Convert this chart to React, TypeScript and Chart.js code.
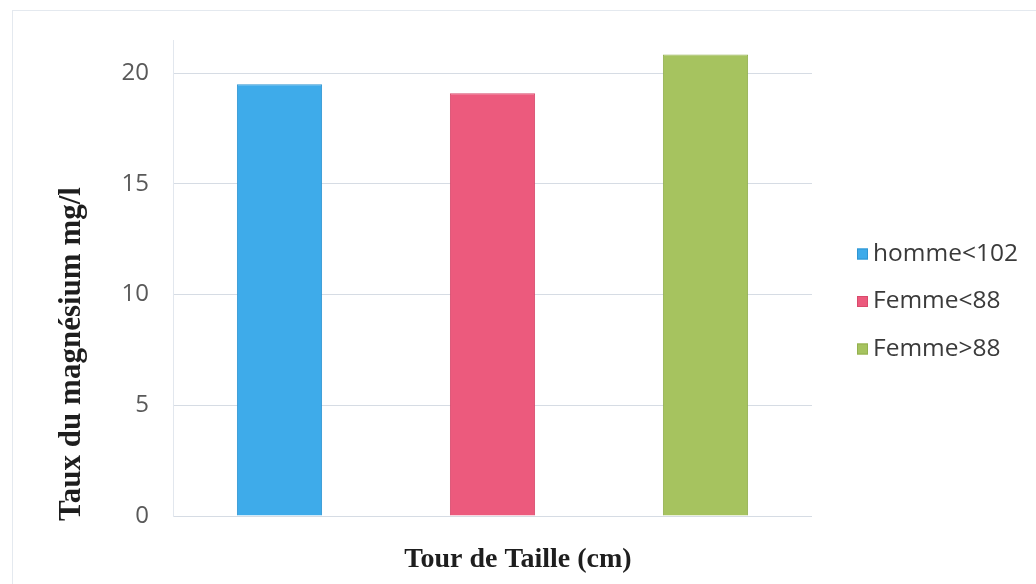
import React, { useEffect, useRef } from "react";
import { Chart, registerables } from "chart.js";

Chart.register(...registerables);

const categories = [""];
const seriesLabels = ["homme<102", "Femme<88", "Femme>88"];
const seriesValues = [19.5, 19.1, 20.85];
const seriesColors = ["#3eabea", "#ec5a7d", "#a6c35f"];
const seriesBorders = ["#2f95d2", "#d94a6c", "#93b04f"];
const yTicks = [0, 5, 10, 15, 20];
const yMax = 21.5;
const yTitle = "Taux du magnésium mg/l";
const xTitle = "Tour de Taille (cm)";

const legendPlugin = {
  id: "customLegend",
  afterDraw(chart: any) {
    const ctx = chart.ctx;
    ctx.save();
    const startY = 254;
    const gap = 47.5;
    chart.data.datasets.forEach((ds: any, i: number) => {
      const cy = startY + i * gap;
      ctx.fillStyle = ds.backgroundColor;
      ctx.fillRect(857, cy - 5.5, 11, 11);
      ctx.strokeStyle = ds.borderColor;
      ctx.lineWidth = 1;
      ctx.strokeRect(857.5, cy - 5, 10, 10);
      ctx.fillStyle = "#3a3a3a";
      ctx.font = "24.5px 'Open Sans'";
      ctx.textBaseline = "middle";
      ctx.textAlign = "left";
      ctx.fillText(ds.label, 873, cy);
    });
    ctx.restore();
  },
};

const titlesPlugin = {
  id: "axisTitles",
  afterDraw(chart: any) {
    const ctx = chart.ctx;
    ctx.save();
    ctx.fillStyle = "#1e1e1e";
    ctx.textAlign = "center";
    ctx.textBaseline = "middle";
    ctx.font = "bold 28px 'Liberation Serif'";
    ctx.fillText(xTitle, 518, 560);
    ctx.translate(72, 354);
    ctx.rotate(-Math.PI / 2);
    ctx.font = "bold 31px 'Liberation Serif'";
    ctx.fillText(yTitle, 0, 0);
    ctx.restore();
  },
};

const framePlugin = {
  id: "frame",
  beforeDraw(chart: any) {
    const ctx = chart.ctx;
    ctx.save();
    ctx.fillStyle = "#ffffff";
    ctx.fillRect(0, 0, chart.width, chart.height);
    ctx.strokeStyle = "#e4e9ef";
    ctx.lineWidth = 1;
    ctx.strokeRect(12.5, 10.5, 1040, 600);
    ctx.restore();
  },
};

export default function App() {
  const ref = useRef<HTMLCanvasElement | null>(null);
  useEffect(() => {
    if (!ref.current) return;
    const chart = new Chart(ref.current, {
      type: "bar",
      data: {
        labels: categories,
        datasets: seriesLabels.map((label, i) => ({
          label,
          data: [seriesValues[i]],
          backgroundColor: seriesColors[i],
          borderColor: seriesBorders[i],
          borderWidth: 1,
          categoryPercentage: 1,
          barPercentage: 0.4,
        })),
      },
      options: {
        animation: false,
        responsive: false,
        maintainAspectRatio: false,
        layout: { padding: { left: 0, right: 224, top: 40, bottom: 68 } },
        plugins: {
          legend: { display: false },
          tooltip: { enabled: false },
        },
        scales: {
          x: {
            grid: { display: false },
            border: { display: false },
            ticks: { display: false },
            afterFit: (s: any) => {
              s.height = 0;
            },
          },
          y: {
            min: 0,
            max: yMax,
            afterBuildTicks: (scale: any) => {
              scale.ticks = yTicks.map((v) => ({ value: v }));
            },
            afterFit: (s: any) => {
              s.width = 173;
            },
            grid: { color: "#d6dce4", lineWidth: 1, drawTicks: false },
            border: { display: true, color: "#e2e7ee" },
            ticks: {
              color: "#595959",
              font: { family: "'Open Sans'", size: 24 },
              padding: 24,
            },
          },
        },
      },
      plugins: [framePlugin, legendPlugin, titlesPlugin],
    });
    return () => chart.destroy();
  }, []);
  return (
    <div style={{ position: "absolute", left: 0, top: 0, width: 1036, height: 584 }}>
      <canvas ref={ref} width={1036} height={584} style={{ width: 1036, height: 584 }} />
    </div>
  );
}
